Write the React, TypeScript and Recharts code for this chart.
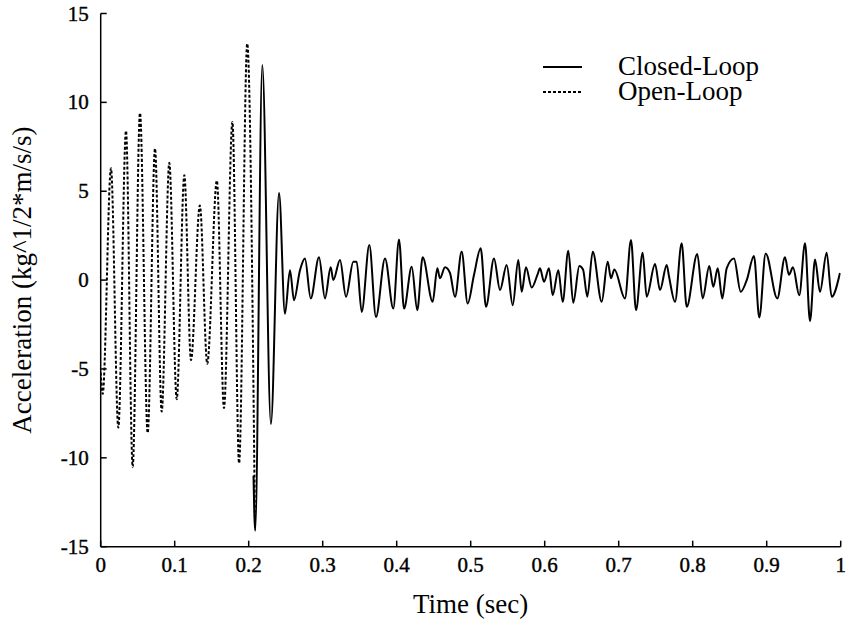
import React from "react";
import { LineChart, Line, XAxis, YAxis } from "recharts";

// [time (s), acceleration]
const openLoop: [number, number][] = [
  [0, -5.2], [0.0027, -6.4], [0.0139, 6.3], [0.0238, -8.3], [0.0342, 8.4],
  [0.0432, -10.5], [0.0531, 9.4], [0.0635, -8.6], [0.0734, 7.4], [0.0824, -7.4],
  [0.0927, 6.6], [0.1027, -6.7], [0.113, 5.9], [0.122, -4.5], [0.134, 4.2],
  [0.144, -4.7], [0.157, 5.6], [0.1666, -7.2], [0.178, 8.9], [0.187, -10.3],
  [0.198, 13.3], [0.2085, -14.0],
];

const closedLoop: [number, number][] = [
  [0.2065, -11], [0.2088, -14.1], [0.2184, 12.1], [0.23, -8.1], [0.241, 4.9],
  [0.249, -1.9], [0.2558, 0.56], [0.2612, -1.13], [0.2693, 0.56], [0.276, 1.22],
  [0.2838, -1.03], [0.295, 1.28], [0.3031, -1.03], [0.3108, 0.72], [0.3143, 0.0],
  [0.3234, 1.13], [0.3315, -0.94], [0.3414, 1.03], [0.3459, 1.03], [0.3527, -1.79],
  [0.363, 1.97], [0.372, -2.07], [0.3842, 1.22], [0.3954, -1.6], [0.4031, 2.29],
  [0.4099, -1.6], [0.4203, 0.75], [0.4278, -1.69], [0.4351, 1.28], [0.4486, -1.22],
  [0.4549, 0.66], [0.4585, 0.1], [0.4653, 0.72], [0.472, 0.4], [0.4788, -0.94],
  [0.4878, 1.6], [0.4959, -1.32], [0.5045, 0.3], [0.5135, 1.79], [0.5207, -1.5],
  [0.5315, 1.22], [0.5396, -0.56], [0.5486, 0.85], [0.5568, -1.41], [0.5643, 1.13],
  [0.5689, -0.66], [0.5747, 0.72], [0.5824, -0.42], [0.5905, 0.34], [0.5936, 0.66],
  [0.5991, -0.09], [0.6058, 0.66], [0.6108, -0.85], [0.6184, 0.56], [0.6243, -1.22],
  [0.6319, 1.65], [0.6386, -1.28], [0.6468, 0.79], [0.6518, 0.6], [0.6576, -0.94],
  [0.6649, 1.6], [0.677, -1.22], [0.6851, 1.03], [0.6896, 0.1], [0.6941, 0.6],
  [0.7085, -1.03], [0.7166, 2.26], [0.7234, -1.69], [0.7324, 1.54], [0.7378, -0.94],
  [0.7491, 0.9], [0.7558, -0.56], [0.7649, 0.85], [0.768, 0.2], [0.7761, -1.22],
  [0.7851, 2.07], [0.7919, -1.5], [0.8062, 1.47], [0.8135, -1.03], [0.8224, 0.79],
  [0.8278, -0.38], [0.8338, 0.66], [0.84, -1.03], [0.8459, 0.66], [0.8558, 1.22],
  [0.8649, -0.66], [0.873, 0.0], [0.8828, 1.35], [0.89, -2.1], [0.8986, 1.5],
  [0.9143, -1.03], [0.9247, 1.28], [0.93, 0.3], [0.9355, 0.72], [0.944, -0.85],
  [0.9518, 2.07], [0.9585, -2.3], [0.9653, 1.16], [0.972, -0.66], [0.981, 1.54],
  [0.9878, -0.94], [0.999, 0.4],
];

const xTicks = [0, 0.1, 0.2, 0.3, 0.4, 0.5, 0.6, 0.7, 0.8, 0.9, 1];
const yTicks = [-15, -10, -5, 0, 5, 10, 15];
const seriesNames = ["Closed-Loop", "Open-Loop"];

const FONT = '"Liberation Serif", "Times New Roman", serif';

const openData = openLoop.map(([t, v]) => ({ t, v }));
const closedData = closedLoop.map(([t, v]) => ({ t, v }));

const BottomTick = (props: any) => {
  const { x, y, payload } = props;
  return (
    <g>
      <line x1={x} x2={x} y1={y} y2={y - 6} stroke="#000" strokeWidth={1.5} />
      <text x={x} y={y + 25} textAnchor="middle" fontFamily={FONT} fontSize={21} fill="#000" stroke="#000" strokeWidth={0.4}>
        {String(payload.value)}
      </text>
    </g>
  );
};

const TopTick = (props: any) => {
  const { x, y } = props;
  return <line x1={x} x2={x} y1={y} y2={y + 6} stroke="#000" strokeWidth={1.5} />;
};

const LeftTick = (props: any) => {
  const { x, y, payload } = props;
  return (
    <g>
      <line x1={x} x2={x + 6} y1={y} y2={y} stroke="#000" strokeWidth={1.5} />
      <text x={x - 12} y={y + 7} textAnchor="end" fontFamily={FONT} fontSize={21} fill="#000" stroke="#000" strokeWidth={0.4}>
        {String(payload.value)}
      </text>
    </g>
  );
};

const RightTick = (props: any) => {
  const { x, y } = props;
  return <line x1={x} x2={x - 6} y1={y} y2={y} stroke="#000" strokeWidth={1.5} />;
};

export default function App() {
  return (
    <div style={{ position: "absolute", left: 0, top: 0, width: 846, height: 625, background: "#fff" }}>
      <LineChart width={846} height={625} margin={{ top: 13.5, right: 5.3, bottom: 0, left: 0 }}>
        <XAxis
          xAxisId={0}
          type="number"
          dataKey="t"
          domain={[0, 1]}
          ticks={xTicks}
          allowDataOverflow
          height={78.3}
          tickSize={0}
          tickMargin={0}
          tickLine={false}
          axisLine={{ stroke: "#000", strokeWidth: 1.5 }}
          tick={<BottomTick />}
          interval={0}
          label={{ value: "Time (sec)", position: "insideBottom", offset: 12, fontFamily: FONT, fontSize: 27, fill: "#000" }}
        />
        <XAxis
          xAxisId="top"
          orientation="top"
          type="number"
          domain={[0, 1]}
          ticks={xTicks}
          allowDataOverflow
          height={0}
          tickSize={0}
          tickMargin={0}
          tickLine={false}
          axisLine={{ stroke: "#000", strokeWidth: 1.5 }}
          tick={<TopTick />}
          interval={0}
        />
        <YAxis
          yAxisId={0}
          type="number"
          domain={[-15, 15]}
          ticks={yTicks}
          allowDataOverflow
          width={100.7}
          tickSize={0}
          tickMargin={0}
          tickLine={false}
          axisLine={{ stroke: "#000", strokeWidth: 1.5 }}
          tick={<LeftTick />}
          interval={0}
          label={{
            value: "Acceleration (kg^1/2*m/s/s)",
            angle: -90,
            position: "insideLeft",
            offset: 21,
            style: { textAnchor: "middle" },
            fontFamily: FONT,
            fontSize: 27,
            fill: "#000",
          }}
        />
        <YAxis
          yAxisId="right"
          orientation="right"
          type="number"
          domain={[-15, 15]}
          ticks={yTicks}
          allowDataOverflow
          width={0}
          tickSize={0}
          tickMargin={0}
          tickLine={false}
          axisLine={{ stroke: "#000", strokeWidth: 1.5 }}
          tick={<RightTick />}
          interval={0}
        />
        <Line
          data={openData}
          dataKey="v"
          name={seriesNames[1]}
          type="monotone"
          stroke="#000"
          strokeWidth={2}
          strokeDasharray="3 2"
          dot={false}
          isAnimationActive={false}
        />
        <Line
          data={closedData}
          dataKey="v"
          name={seriesNames[0]}
          type="monotone"
          stroke="#000"
          strokeWidth={2}
          dot={false}
          isAnimationActive={false}
        />
      </LineChart>
      <svg width={260} height={70} style={{ position: "absolute", left: 535, top: 45, overflow: "visible" }}>
        <line x1={8} x2={47} y1={22} y2={22} stroke="#000" strokeWidth={2} />
        <line x1={8} x2={47} y1={47} y2={47} stroke="#000" strokeWidth={2} strokeDasharray="3 2" />
        <text x={83} y={30} fontFamily={FONT} fontSize={27} fill="#000">{seriesNames[0]}</text>
        <text x={83} y={55} fontFamily={FONT} fontSize={27} fill="#000">{seriesNames[1]}</text>
      </svg>
    </div>
  );
}
